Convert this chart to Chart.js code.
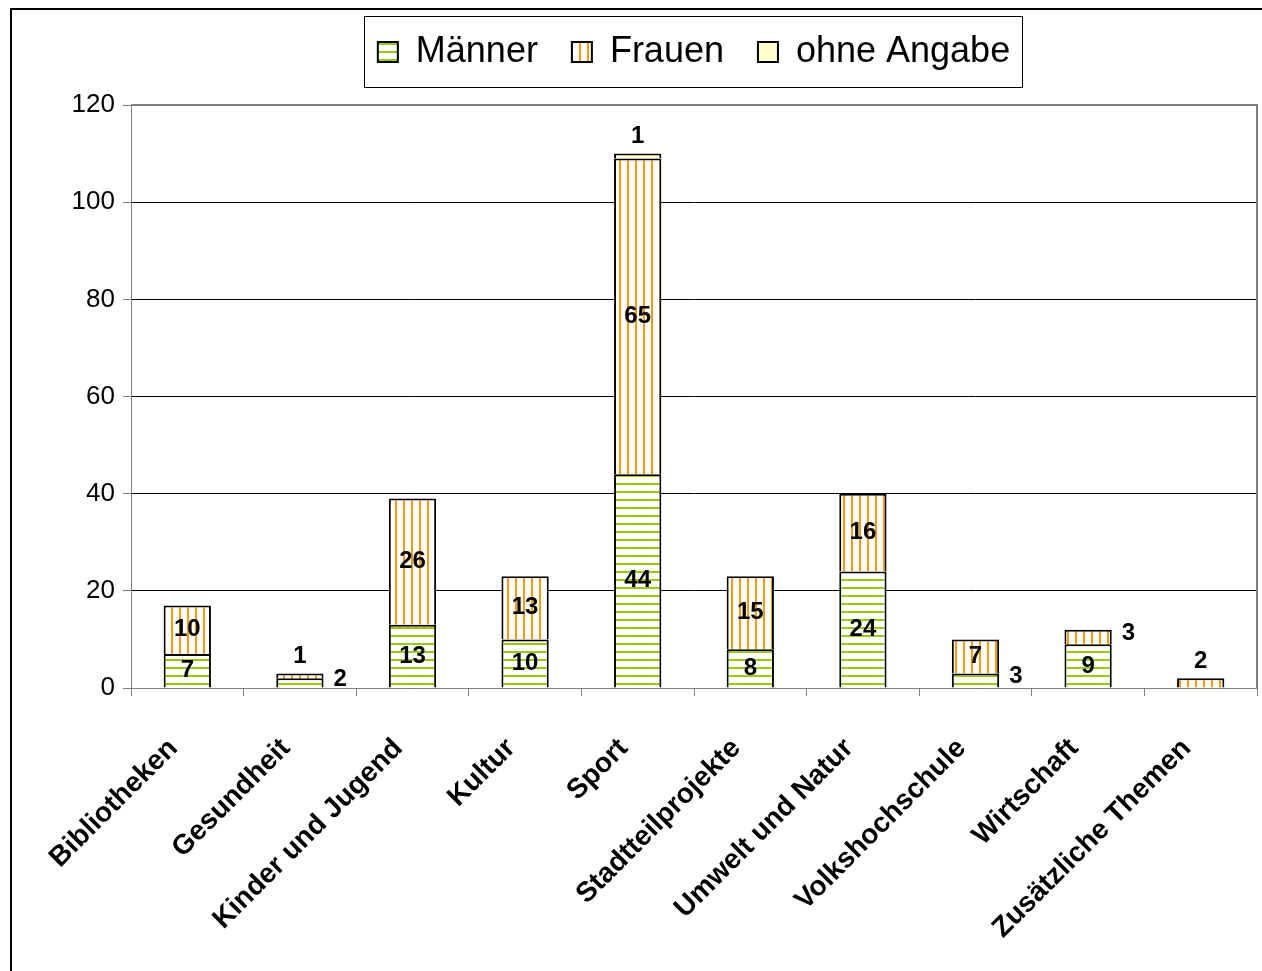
<!DOCTYPE html>
<html>
<head>
<meta charset="utf-8">
<script src="https://cdn.jsdelivr.net/npm/chart.js@4.4.1/dist/chart.umd.min.js"></script>
<style>
  html, body { margin: 0; padding: 0; background: #fff; }
  #wrap { width: 1262px; height: 971px; }
</style>
</head>
<body>
<div id="wrap"><canvas id="chart" width="1262" height="971"></canvas></div>
<script>
const categories = ["Bibliotheken", "Gesundheit", "Kinder und Jugend", "Kultur", "Sport",
  "Stadtteilprojekte", "Umwelt und Natur", "Volkshochschule", "Wirtschaft", "Zusätzliche Themen"];
const maenner = [7, 2, 13, 10, 44, 8, 24, 3, 9, 0];
const frauen = [10, 1, 26, 13, 65, 15, 16, 7, 3, 2];
const ohneAngabe = [0, 0, 0, 0, 1, 0, 0, 0, 0, 0];
const yTickValues = [0, 20, 40, 60, 80, 100, 120];

const FONT = '"Liberation Sans", Arial, sans-serif';
Chart.defaults.font.family = FONT;

const canvas = document.getElementById("chart");
const ctx = canvas.getContext("2d");

// striped fills like the old office patterns
function stripes(color, vertical) {
  const c = document.createElement("canvas");
  c.width = 8;
  c.height = 8;
  const g = c.getContext("2d");
  g.fillStyle = "#fff";
  g.fillRect(0, 0, 8, 8);
  g.fillStyle = color;
  if (vertical) g.fillRect(3, 0, 2, 8);
  else g.fillRect(0, 3, 8, 2);
  return ctx.createPattern(c, "repeat");
}

const segmentLabels = {
  id: "segmentLabels",
  afterDatasetsDraw(chart) {
    const c = chart.ctx;
    c.save();
    c.font = 'bold 24px ' + FONT;
    c.fillStyle = "#000";
    c.textBaseline = "middle";
    const sets = chart.data.datasets;
    sets.forEach((ds, di) => {
      const meta = chart.getDatasetMeta(di);
      meta.data.forEach((bar, i) => {
        const v = ds.data[i];
        if (!v) return;
        const h = Math.abs(bar.base - bar.y);
        const isTop = sets.slice(di + 1).every((d) => !d.data[i]);
        let x = bar.x;
        let y = (bar.y + bar.base) / 2;
        c.textAlign = "center";
        if (h < 22) {
          if (isTop && h < 12) {
            y = bar.y - 17;
          } else {
            x = bar.x + bar.width / 2 + 10;
            y -= 4;
            c.textAlign = "left";
          }
        }
        c.fillText(String(v), x, y);
      });
    });
    c.restore();
  },
};

const frames = {
  id: "frames",
  afterDraw(chart) {
    const c = chart.ctx;
    const a = chart.chartArea;
    c.save();
    // plot area border top + right
    c.strokeStyle = "#808080";
    c.lineWidth = 2;
    c.beginPath();
    c.moveTo(a.left, a.top);
    c.lineTo(a.right, a.top);
    c.lineTo(a.right, a.bottom);
    c.stroke();
    // legend box around the items
    const hb = chart.legend.legendHitBoxes;
    if (hb && hb.length) {
      const l = hb[0].left - 14;
      const r = hb[hb.length - 1].left + hb[hb.length - 1].width + 12;
      const mid = hb[0].top + hb[0].height / 2;
      c.strokeStyle = "#000";
      c.lineWidth = 1;
      c.strokeRect(Math.round(l) + 0.5, Math.round(mid - 36) + 0.5, Math.round(r - l), 71);
    }
    // outer frame
    c.strokeStyle = "#000";
    c.lineWidth = 2;
    c.strokeRect(11, 9, 1400, 1100);
    c.restore();
  },
};

new Chart(ctx, {
  type: "bar",
  data: {
    labels: categories,
    datasets: [
      { label: "Männer", data: maenner, backgroundColor: stripes("#99cc00", false), borderColor: "#000", borderWidth: 2 },
      { label: "Frauen", data: frauen, backgroundColor: stripes("#ff9900", true), borderColor: "#000", borderWidth: 2 },
      { label: "ohne Angabe", data: ohneAngabe, backgroundColor: "#ffffcc", borderColor: "#000", borderWidth: 2 },
    ],
  },
  options: {
    responsive: false,
    animation: false,
    layout: { padding: { top: 0, right: 5, left: 0, bottom: 0 } },
    datasets: {
      bar: { barPercentage: 0.42, categoryPercentage: 1 },
    },
    plugins: {
      tooltip: { enabled: false },
      legend: {
        position: "top",
        fullSize: false,
        labels: {
          color: "#000",
          font: { size: 36 },
          boxWidth: 20,
          boxHeight: 20,
          padding: 34,
        },
      },
      // empty spacer between legend and plot
      subtitle: {
        display: true,
        text: "",
        position: "top",
        weight: 500,
        font: { size: 10 },
        padding: { top: 0, bottom: 13 },
      },
    },
    scales: {
      x: {
        stacked: true,
        grid: { drawOnChartArea: false, offset: true, tickLength: 8, color: "#808080" },
        border: { color: "#808080" },
        ticks: {
          color: "#000",
          font: { size: 28, weight: "bold" },
          maxRotation: 45,
          minRotation: 45,
          padding: 36,
          labelOffset: -14,
        },
        afterFit(s) {
          s.height = 283;
          s.paddingLeft = 0;
          s.paddingRight = 0;
        },
      },
      y: {
        stacked: true,
        min: 0,
        max: 120,
        afterBuildTicks(s) { s.ticks = yTickValues.map((v) => ({ value: v })); },
        ticks: { color: "#000", font: { size: 26 }, padding: 8 },
        grid: { color: "#000", tickColor: "#808080", tickLength: 8 },
        border: { color: "#808080" },
        afterFit(s) { s.width = 131; },
      },
    },
  },
  plugins: [segmentLabels, frames],
});
</script>
</body>
</html>
